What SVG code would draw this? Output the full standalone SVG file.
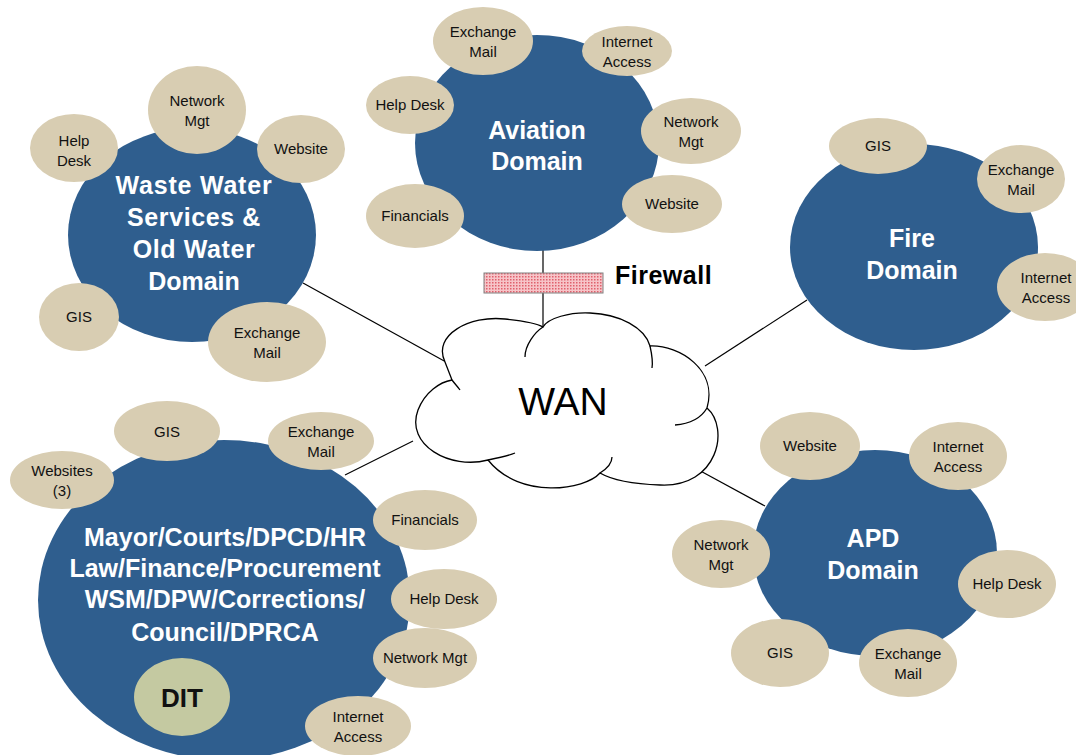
<svg xmlns="http://www.w3.org/2000/svg" width="1076" height="755" viewBox="0 0 1076 755">
  <style>
    .domain { fill: #2F5E8E; }
    .sat { fill: #D8CDB2; }
    .dit { fill: #C4C9A1; }
    .link { stroke: #000; stroke-width: 1.2; fill: none; }
    .title { font-family: "Liberation Sans", Arial, sans-serif; font-weight: bold; font-size: 25px; fill: #fff; text-anchor: middle; }
    .lbl { font-family: "Liberation Sans", Arial, sans-serif; font-size: 15px; fill: #111; text-anchor: middle; }
  </style>
  <defs>
    <pattern id="fwDots" width="3" height="3" patternUnits="userSpaceOnUse">
      <rect width="3" height="3" fill="#F7C4C8"/>
      <rect x="0" y="0" width="1.5" height="1.5" fill="#E0606C"/>
    </pattern>
  </defs>

  <rect width="1076" height="755" fill="#fff"/>

  <!-- connectors -->
  <g id="connectors" class="link">
    <line x1="303" y1="283" x2="446" y2="362"/>
    <line x1="345" y1="475" x2="413" y2="441"/>
    <line x1="807" y1="300" x2="705" y2="366"/>
    <line x1="695" y1="468" x2="765" y2="506"/>
    <line x1="543" y1="250" x2="543" y2="273"/>
    <line x1="543" y1="293" x2="543" y2="327"/>
  </g>

  <!-- WAN cloud -->
  <g id="wan">
    <path d="M445,362 C432,335 470,315 505,319 C525,321 538,324 543,327
             C548,318 570,312 590,313 C620,314 645,328 650,346
             C680,345 718,370 707,408
             C730,428 718,488 660,485 C632,484 612,480 600,473
             C585,490 520,500 488,460
             C450,470 405,445 418,410 C425,392 440,382 452,380 Z"
          fill="#fff" stroke="#000" stroke-width="1.3"/>
    <g fill="none" stroke="#000" stroke-width="1.3">
      <path d="M543,327 C535,332 525,345 525,357"/>
      <path d="M650,346 C652,355 653,362 652,368"/>
      <path d="M707,408 C700,420 688,424 675,425"/>
      <path d="M600,473 C608,468 612,462 612,457"/>
      <path d="M488,460 C498,458 508,456 515,453"/>
      <path d="M452,380 C455,384 458,387 460,390"/>
    </g>
    <text x="563" y="415" font-family="Liberation Sans, Arial, sans-serif" font-size="39" text-anchor="middle" fill="#000">WAN</text>
  </g>

  <!-- firewall -->
  <g id="firewall">
    <rect x="484" y="273" width="119" height="20" fill="url(#fwDots)" stroke="#808080" stroke-width="1"/>
    <text x="615" y="284" font-family="Liberation Sans, Arial, sans-serif" font-weight="bold" font-size="25" letter-spacing="0.5" fill="#000">Firewall</text>
  </g>

  <!-- Aviation domain -->
  <g id="aviation">
    <ellipse class="domain" cx="537" cy="143" rx="122" ry="108"/>
    <text class="title" x="537" y="139">Aviation</text>
    <text class="title" x="537" y="170">Domain</text>
    <ellipse class="sat" cx="483" cy="41" rx="50" ry="34"/>
    <text class="lbl" x="483" y="37">Exchange</text><text class="lbl" x="483" y="57">Mail</text>
    <ellipse class="sat" cx="627" cy="51" rx="45" ry="25"/>
    <text class="lbl" x="627" y="47">Internet</text><text class="lbl" x="627" y="67">Access</text>
    <ellipse class="sat" cx="410" cy="105" rx="44" ry="29"/>
    <text class="lbl" x="410" y="110">Help Desk</text>
    <ellipse class="sat" cx="691" cy="131" rx="50" ry="33"/>
    <text class="lbl" x="691" y="127">Network</text><text class="lbl" x="691" y="147">Mgt</text>
    <ellipse class="sat" cx="672" cy="204" rx="50" ry="29"/>
    <text class="lbl" x="672" y="209">Website</text>
    <ellipse class="sat" cx="415" cy="216" rx="49" ry="32"/>
    <text class="lbl" x="415" y="221">Financials</text>
  </g>

  <!-- Waste Water domain -->
  <g id="wastewater">
    <ellipse class="domain" cx="192" cy="235" rx="124" ry="107"/>
    <text class="title" x="194" y="194" letter-spacing="0.8">Waste Water</text>
    <text class="title" x="194" y="226" letter-spacing="0.6">Services &amp;</text>
    <text class="title" x="194" y="258" letter-spacing="0.6">Old Water</text>
    <text class="title" x="194" y="290">Domain</text>
    <ellipse class="sat" cx="197" cy="110" rx="49" ry="44"/>
    <text class="lbl" x="197" y="106">Network</text><text class="lbl" x="197" y="126">Mgt</text>
    <ellipse class="sat" cx="74" cy="148" rx="44" ry="34"/>
    <text class="lbl" x="74" y="146">Help</text><text class="lbl" x="74" y="166">Desk</text>
    <ellipse class="sat" cx="301" cy="149" rx="44" ry="34"/>
    <text class="lbl" x="301" y="154">Website</text>
    <ellipse class="sat" cx="79" cy="317" rx="40" ry="34"/>
    <text class="lbl" x="79" y="322">GIS</text>
    <ellipse class="sat" cx="267" cy="342" rx="59" ry="40"/>
    <text class="lbl" x="267" y="338">Exchange</text><text class="lbl" x="267" y="358">Mail</text>
  </g>

  <!-- Fire domain -->
  <g id="fire">
    <ellipse class="domain" cx="914" cy="247" rx="124" ry="103"/>
    <text class="title" x="912" y="247">Fire</text>
    <text class="title" x="912" y="279">Domain</text>
    <ellipse class="sat" cx="878" cy="146" rx="49" ry="28"/>
    <text class="lbl" x="878" y="151">GIS</text>
    <ellipse class="sat" cx="1021" cy="179" rx="44" ry="34"/>
    <text class="lbl" x="1021" y="175">Exchange</text><text class="lbl" x="1021" y="195">Mail</text>
    <ellipse class="sat" cx="1045" cy="287" rx="48" ry="34"/>
    <text class="lbl" x="1046" y="283">Internet</text><text class="lbl" x="1046" y="303">Access</text>
  </g>

  <!-- Mayor/Courts domain -->
  <g id="mayor">
    <ellipse class="domain" cx="224" cy="600" rx="186" ry="160"/>
    <text class="title" x="225" y="546">Mayor/Courts/DPCD/HR</text>
    <text class="title" x="225" y="577">Law/Finance/Procurement</text>
    <text class="title" x="225" y="608">WSM/DPW/Corrections/</text>
    <text class="title" x="225" y="641">Council/DPRCA</text>
    <ellipse class="dit" cx="182" cy="697" rx="48" ry="39"/>
    <text x="182" y="707" font-family="Liberation Sans, Arial, sans-serif" font-weight="bold" font-size="26" text-anchor="middle" fill="#111">DIT</text>
    <ellipse class="sat" cx="167" cy="431" rx="53" ry="30"/>
    <text class="lbl" x="167" y="437">GIS</text>
    <ellipse class="sat" cx="321" cy="441" rx="53" ry="29"/>
    <text class="lbl" x="321" y="437">Exchange</text><text class="lbl" x="321" y="457">Mail</text>
    <ellipse class="sat" cx="62" cy="480" rx="52" ry="29"/>
    <text class="lbl" x="62" y="476">Websites</text><text class="lbl" x="62" y="496">(3)</text>
    <ellipse class="sat" cx="425" cy="520" rx="52" ry="30"/>
    <text class="lbl" x="425" y="525">Financials</text>
    <ellipse class="sat" cx="444" cy="599" rx="53" ry="30"/>
    <text class="lbl" x="444" y="604">Help Desk</text>
    <ellipse class="sat" cx="425" cy="658" rx="52" ry="30"/>
    <text class="lbl" x="425" y="663">Network Mgt</text>
    <ellipse class="sat" cx="358" cy="726" rx="53" ry="30"/>
    <text class="lbl" x="358" y="722">Internet</text><text class="lbl" x="358" y="742">Access</text>
  </g>

  <!-- APD domain -->
  <g id="apd">
    <ellipse class="domain" cx="875" cy="553" rx="122" ry="103"/>
    <text class="title" x="873" y="547">APD</text>
    <text class="title" x="873" y="579">Domain</text>
    <ellipse class="sat" cx="810" cy="446" rx="50" ry="34"/>
    <text class="lbl" x="810" y="451">Website</text>
    <ellipse class="sat" cx="958" cy="456" rx="49" ry="34"/>
    <text class="lbl" x="958" y="452">Internet</text><text class="lbl" x="958" y="472">Access</text>
    <ellipse class="sat" cx="721" cy="554" rx="49" ry="34"/>
    <text class="lbl" x="721" y="550">Network</text><text class="lbl" x="721" y="570">Mgt</text>
    <ellipse class="sat" cx="1007" cy="584" rx="49" ry="34"/>
    <text class="lbl" x="1007" y="589">Help Desk</text>
    <ellipse class="sat" cx="780" cy="653" rx="49" ry="34"/>
    <text class="lbl" x="780" y="658">GIS</text>
    <ellipse class="sat" cx="908" cy="663" rx="49" ry="34"/>
    <text class="lbl" x="908" y="659">Exchange</text><text class="lbl" x="908" y="679">Mail</text>
  </g>
</svg>
